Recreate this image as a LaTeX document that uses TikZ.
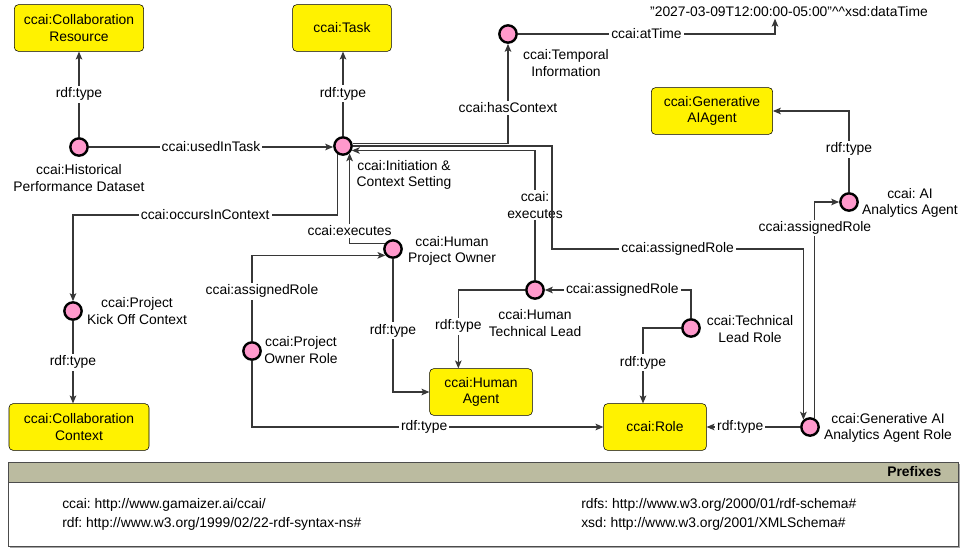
\documentclass[tikz,border=0pt]{standalone}
\usepackage{fontspec}
\setmainfont{Liberation Sans}
\usetikzlibrary{arrows.meta}
\usetikzlibrary{positioning}
\frenchspacing
\newcommand{\figfont}{\fontsize{10.4}{12.5}\selectfont}
\definecolor{mpink}{RGB}{255,153,204}
\definecolor{mgray}{RGB}{55,55,55}
\definecolor{mkhaki}{RGB}{187,187,160}
\tikzset{cls/.style = {draw, rounded corners=3pt, fill=yellow, minimum height=35pt, align=center, inner sep=2pt}}
\tikzset{res/.style = {draw, circle, line width=1.8pt, fill=mpink, minimum size=13pt, inner sep=0}}
\tikzset{note/.style = {align=center, inner sep=0}}
\tikzset{lbl/.style = {fill=white, inner sep=1.5pt, align=center}}
\tikzset{link/.style = {draw=mgray, line width=0.8pt, -{Stealth[length=6pt, width=5pt, inset=1.5pt]}}}

\begin{document}
\begin{tikzpicture}[x=0.75pt, y=-0.75pt, font=\figfont]
  \useasboundingbox (0, 0) rectangle (964, 547);

  % classes
  \node [cls, minimum width=97pt] (collres) at (79, 28) {ccai:Collaboration\\Resource};
  \node [cls, minimum width=74pt] (task) at (342, 28) {ccai:Task};
  \node [cls, minimum width=91pt] (genai) at (712, 111) {ccai:Generative\\AIAgent};
  \node [cls, minimum width=105pt] (collctx) at (79, 427) {ccai:Collaboration\\Context};
  \node [cls, minimum width=77pt] (hagent) at (481, 392) {ccai:Human\\Agent};
  \node [cls, minimum width=77pt] (role) at (655, 427) {ccai:Role};

  % resources
  \node [res] (hist) at (79, 147) {};
  \node [res] (init) at (343, 146) {};
  \node [res] (temporal) at (508, 34) {};
  \node [res] (aiagent) at (849, 202) {};
  \node [res] (kickoff) at (73, 311) {};
  \node [res] (porole) at (252, 351) {};
  \node [res] (hpo) at (393, 249) {};
  \node [res] (htl) at (535, 290) {};
  \node [res] (tlrole) at (691, 328) {};
  \node [res] (garole) at (810, 427) {};

  % captions
  \node [note] (histcap) at (79, 178) {ccai:Historical\\Performance Dataset};
  \node [note] (initcap) at (404, 175) {ccai:Initiation \&\\Context Setting};
  \node [note] (temporalcap) at (566, 63) {ccai:Temporal\\Information};
  \node [note] (aiagentcap) at (910, 203) {ccai: AI\\Analytics Agent};
  \node [note] (kickoffcap) at (137, 311) {ccai:Project\\Kick Off Context};
  \node [note] (porolecap) at (301, 350) {ccai:Project\\Owner Role};
  \node [note] (hpocap) at (452, 251) {ccai:Human\\Project Owner};
  \node [note] (htlcap) at (535, 323) {ccai:Human\\Technical Lead};
  \node [note] (tlrolecap) at (750, 329) {ccai:Technical\\Lead Role};
  \node [note] (garolecap) at (888, 428) {ccai:Generative AI\\Analytics Agent Role};
  \node [note, inner sep=1pt] (literal) at (789, 12) {"2027-03-09T12:00:00-05:00"\textasciicircum\textasciicircum xsd:dataTime};

  % links
  \draw [link] (hist) -- (collres) node [lbl, midway] {rdf:type};
  \draw [link] (hist) -- (hist -| init.west) node [lbl, midway] {ccai:usedInTask};
  \draw [link] (init) -- (init |- task.south) node [lbl, midway] {rdf:type};
  \draw [link] (init.15) -| (temporal) node [lbl, pos=0.68] {ccai:hasContext};
  \draw [link] (temporal) -| ([xshift=-10.5pt]literal.south) node [lbl, pos=0.25] {ccai:atTime};
  \draw [link] (init.235) -- (init.235 |- 0,215) -| (kickoff) node [lbl, pos=0.25] {ccai:occursInContext};
  \draw [link] (hpo.146) -| (init.312) node [lbl, pos=0.57] {ccai:executes};
  \draw [link] (htl) |- (init.333) node [lbl, pos=0.29] {ccai:\\executes};
  \draw [link] (init.east) -| (552, 249) -| (garole.132) node [lbl, pos=0.25] {ccai:assignedRole};
  \draw [link] (garole.60) |- (aiagent) node [lbl, pos=0.44] {ccai:assignedRole};
  \draw [link] (aiagent) |- (genai) node [lbl, pos=0.265] {rdf:type};
  \draw [link] (tlrole) |- (htl) node [lbl, pos=0.735] {ccai:assignedRole};
  \draw [link] (tlrole) -| ([xshift=-9pt]role.north) node [lbl, pos=0.73] {rdf:type};
  \draw [link] (garole) -- (role) node [lbl, pos=0.64] {rdf:type};
  \draw [link] (htl) -| ([xshift=-17pt]hagent.north) node [lbl, pos=0.73] {rdf:type};
  \draw [link] (hpo) |- (hagent) node [lbl, pos=0.27] {rdf:type};
  \draw [link] (porole) |- (hpo.220) node [lbl, pos=0.29, xshift=7.5pt] {ccai:assignedRole};
  \draw [link] (porole) |- (role) node [lbl, pos=0.745] {rdf:type};
  \draw [link] (kickoff) -- (kickoff |- collctx.north) node [lbl, midway] {rdf:type};

  % prefixes
  \fill [black!35] (10, 464) rectangle (960, 548);
  \draw [fill=white, draw=black!70] (8, 462) rectangle (958, 546);
  \draw [fill=mkhaki, draw=black!70] (8, 462) rectangle (958, 482);
  \node [anchor=east, font=\figfont\bfseries] (pfxhead) at (946, 472) {Prefixes};
  \node [anchor=base west, inner sep=0] (pfxccai) at (62, 508) {ccai: http://www.gamaizer.ai/ccai/};
  \node [anchor=base west, inner sep=0] (pfxrdf) at (62, 527) {rdf: http://www.w3.org/1999/02/22-rdf-syntax-ns\#};
  \node [anchor=base west, inner sep=0] (pfxrdfs) at (581, 508) {rdfs: http://www.w3.org/2000/01/rdf-schema\#};
  \node [anchor=base west, inner sep=0] (pfxxsd) at (581, 527) {xsd: http://www.w3.org/2001/XMLSchema\#};
\end{tikzpicture}
\end{document}
